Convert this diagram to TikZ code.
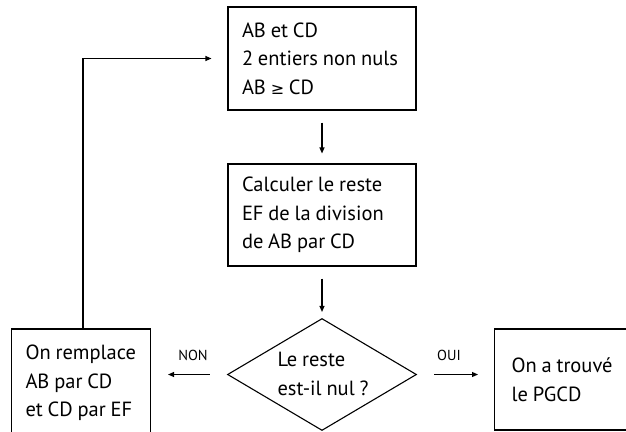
\documentclass[tikz,border=0pt]{standalone}
\usepackage{fontspec}
\setmainfont[Numbers=OldStyle]{PT Sans}
\newfontfamily\symfont{DejaVu Sans}
\usetikzlibrary{arrows.meta,shapes.geometric}
\newcommand{\bodyfont}{\fontsize{20.5}{28.5}\selectfont}
\newcommand{\ws}{\spaceskip=4.8pt plus 0.3pt minus 0.3pt\relax}
\begin{document}
\begin{tikzpicture}[x=1pt,y=-1pt,
  line width=1.1pt,
  box/.style={draw,rectangle,line width=1.1pt,align=left,inner xsep=14pt,inner ysep=0pt,
    font=\bodyfont,anchor=center},
  txt/.style={align=left,inner sep=0pt,font=\bodyfont},
  lbl/.style={inner sep=0pt,font=\fontsize{14.5}{16}\selectfont},
  arr/.style={-{Triangle[length=6pt,width=5pt]},line width=1.1pt}]
\useasboundingbox (0,0) rectangle (626,431);
\clip (0,0) rectangle (626,431);
\fill[white] (0,0) rectangle (626,431);
% top box
\node[box,minimum width=188pt,minimum height=103pt,text width=160pt] (top) at (322,58.5)
  {\ws AB et CD\\2 entiers non nuls\\AB {\symfont\fontsize{16}{28.5}\selectfont ≥} CD};
% box 2
\node[box,minimum width=188pt,minimum height=102pt,text width=160pt] (calc) at (322,215)
  {\ws Calculer le reste\\EF de la division\\de AB par CD};
% diamond
\node[draw,diamond,line width=1.1pt,inner sep=0pt,minimum width=189pt,minimum height=112pt,aspect=1.69] (dec) at (322,374.5) {};
\node[txt] (dectxt) at (323,374) {\ws Le reste\\\ws est-il nul ?};
% left box
\node[box,minimum width=139pt,minimum height=108pt,text width=111pt,inner xsep=12pt] (left) at (81,383)
  {\ws On remplace\\AB par CD\\et CD par EF};
% right box
\node[box,minimum width=131pt,minimum height=101pt,text width=114pt,inner xsep=17pt,anchor=west] (right) at (494,379.5)
  {\ws On a trouvé\\le PGCD};
% labels
\node[lbl] (non) at (193,355) {NON};
\node[lbl] (oui) at (449,355) {OUI};
% connectors
\draw[arr,shorten <=12pt,shorten >=10pt] (top.south) -- (calc.north);
\draw[arr,shorten <=12pt,shorten >=6pt] (calc.south) -- (dec.north);
\draw[arr,shorten <=17pt,shorten >=17pt] (dec.west) -- (dec.west -| left.east);
\draw[arr,shorten <=17pt,shorten >=16pt] (dec.east) -- (dec.east -| right.west);
\draw[arr,shorten >=16pt] ([xshift=2pt]left.north) |- (top.west);
\end{tikzpicture}
\end{document}
